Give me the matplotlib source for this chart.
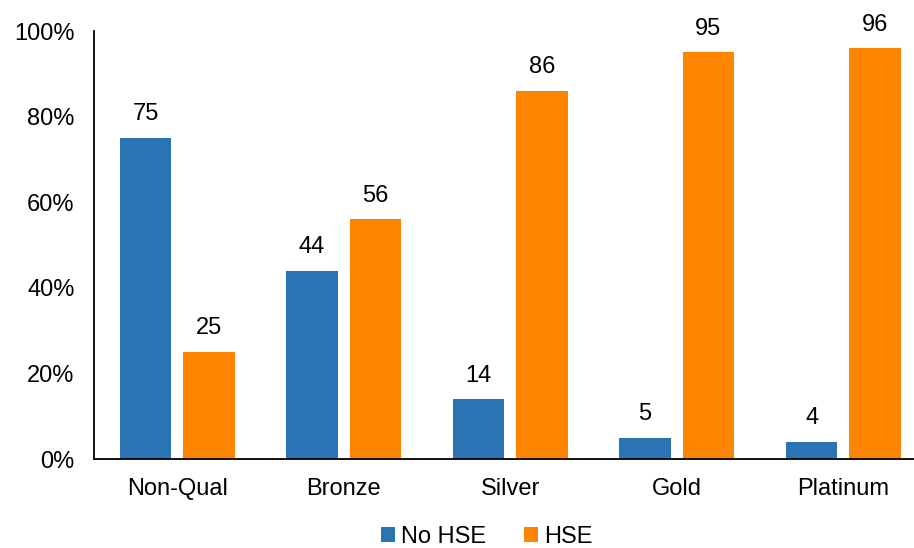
import numpy as np
import matplotlib.pyplot as plt
from matplotlib.ticker import PercentFormatter

plt.rcParams['font.family'] = ['Liberation Sans', 'DejaVu Sans']

categories = ["Non-Qual", "Bronze", "Silver", "Gold", "Platinum"]
no_hse = [75, 44, 14, 5, 4]
hse = [25, 56, 86, 95, 96]

fig = plt.figure(figsize=(9.14, 5.48), dpi=100)
ax = fig.add_axes([94 / 914, (548 - 459) / 548, 820 / 914, 428 / 548])

x = np.arange(len(categories))
w = 0.31
b1 = ax.bar(x - 0.19, no_hse, w, color="#2a74b4", label="No HSE")
b2 = ax.bar(x + 0.19, hse, w, color="#ff8500", label="HSE")

for bars in (b1, b2):
    ax.bar_label(bars, padding=9, fontsize=17)

ax.set_ylim(0, 100)
ax.set_xlim(-0.5, -0.5 + 820 / 166.5)
ax.set_yticks(range(0, 101, 20))
ax.yaxis.set_major_formatter(PercentFormatter(decimals=0))
ax.set_xticks(x)
ax.set_xticklabels(categories)
ax.tick_params(length=0, labelsize=17)
ax.tick_params(axis="x", pad=14)
ax.tick_params(axis="y", pad=14)
ax.spines["top"].set_visible(False)
ax.spines["right"].set_visible(False)
ax.spines["left"].set_linewidth(1.3)
ax.spines["bottom"].set_linewidth(1.3)

fig.legend(loc="center", bbox_to_anchor=(487 / 914, 11 / 548),
           ncol=2, frameon=False, fontsize=17, handlelength=0.6, handleheight=0.6,
           handletextpad=0.25, columnspacing=1.6, borderpad=0.1)

fig.savefig("out.png", dpi=100)
